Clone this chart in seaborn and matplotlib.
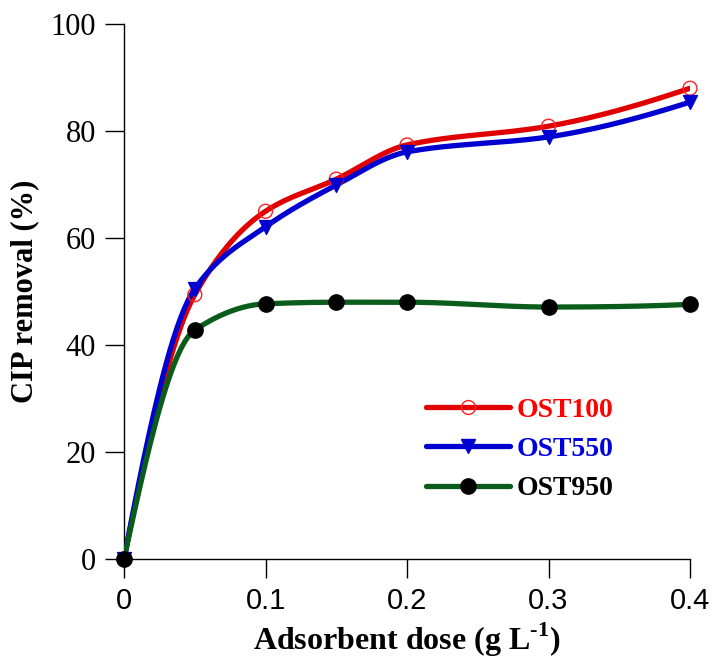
import numpy as np
import pandas as pd
import matplotlib
matplotlib.use("Agg")
import matplotlib.pyplot as plt
import seaborn as sns
from matplotlib.lines import Line2D

dose = [0, 0.05, 0.1, 0.15, 0.2, 0.3, 0.4]
ost100 = [0, 49.4, 65.0, 71.0, 77.4, 80.9, 88.0]
ost550 = [0, 50.5, 62.1, 69.9, 76.1, 78.9, 85.4]
ost950 = [0, 42.8, 47.7, 48.0, 48.0, 47.1, 47.6]
series_names = ["OST100", "OST550", "OST950"]
x_ticks = [0, 0.1, 0.2, 0.3, 0.4]
x_tick_labels = ["0", "0.1", "0.2", "0.3", "0.4"]
y_ticks = [0, 20, 40, 60, 80, 100]

sns.set_theme(style="ticks")
plt.rcParams["font.family"] = ["Liberation Serif", "DejaVu Serif"]
plt.rcParams["mathtext.fontset"] = "custom"
plt.rcParams["mathtext.rm"] = "Liberation Serif:bold"
plt.rcParams["mathtext.bf"] = "Liberation Serif:bold"
plt.rcParams["text.color"] = "black"
plt.rcParams["axes.labelcolor"] = "black"


def smooth(xs, ys, n=40):
    # monotone cubic (PCHIP) rendering of the line through the data points
    x = np.asarray(xs, float)
    y = np.asarray(ys, float)
    h = np.diff(x)
    d = np.diff(y) / h
    m = np.zeros_like(y)
    for k in range(1, len(x) - 1):
        if d[k - 1] * d[k] <= 0:
            m[k] = 0.0
        else:
            w1 = 2 * h[k] + h[k - 1]
            w2 = h[k] + 2 * h[k - 1]
            m[k] = (w1 + w2) / (w1 / d[k - 1] + w2 / d[k])
    def end(h0, h1, d0, d1):
        v = ((2 * h0 + h1) * d0 - h0 * d1) / (h0 + h1)
        if np.sign(v) != np.sign(d0):
            v = 0.0
        elif np.sign(d0) != np.sign(d1) and abs(v) > abs(3 * d0):
            v = 3 * d0
        return v
    m[0] = end(h[0], h[1], d[0], d[1])
    m[-1] = end(h[-1], h[-2], d[-1], d[-2])
    ox, oy = [], []
    t = np.linspace(0, 1, n, endpoint=False)
    for k in range(len(x) - 1):
        h00 = 2 * t ** 3 - 3 * t ** 2 + 1
        h10 = t ** 3 - 2 * t ** 2 + t
        h01 = -2 * t ** 3 + 3 * t ** 2
        h11 = t ** 3 - t ** 2
        ox.extend(x[k] + t * h[k])
        oy.extend(h00 * y[k] + h10 * h[k] * m[k] + h01 * y[k + 1] + h11 * h[k] * m[k + 1])
    ox.append(x[-1])
    oy.append(y[-1])
    return np.array(ox), np.array(oy)


fig = plt.figure(figsize=(7.14, 6.6), dpi=100)
ax = fig.add_axes([0.1737, 0.153, 0.7927, 0.8106])

styles = [
    dict(name="OST100", y=ost100, color="#e00000", marker="o", mfc="none", mec="#ff2020", ms=10, txt="#ff0000"),
    dict(name="OST550", y=ost550, color="#0000d0", marker="v", mfc="#0000d0", mec="#0000d0", ms=10, txt="#0000dd"),
    dict(name="OST950", y=ost950, color="#0a5c1a", marker="o", mfc="black", mec="black", ms=11, txt="black"),
]

for i, s in enumerate(styles):
    sx, sy = smooth(dose, s["y"])
    df_line = pd.DataFrame({"x": sx, "y": sy})
    sns.lineplot(data=df_line, x="x", y="y", sort=False, color=s["color"], lw=3.8, ax=ax, zorder=2 + i)

for i, s in enumerate(styles):
    df = pd.DataFrame({"x": dose, "y": s["y"]})
    sns.scatterplot(data=df, x="x", y="y", marker=s["marker"], s=s["ms"] ** 2,
                    facecolor=s["mfc"], edgecolor=s["mec"], linewidth=1.0,
                    ax=ax, zorder=10 + i, clip_on=False)

ax.set_xlim(0, 0.4)
ax.set_ylim(0, 100)
ax.set_xticks(x_ticks)
ax.set_xticklabels(x_tick_labels, family="Liberation Sans", fontsize=21)
ax.set_yticks(y_ticks)
ax.tick_params(axis="both", direction="out", length=14, width=1.0, color="black", labelcolor="black")
ax.tick_params(axis="y", labelsize=22, pad=6)
ax.tick_params(axis="x", pad=6)
for sp in ["top", "right"]:
    ax.spines[sp].set_visible(False)
for sp in ["left", "bottom"]:
    ax.spines[sp].set_color("black")
    ax.spines[sp].set_linewidth(1.0)

ax.set_xlabel(r"Adsorbent dose (g L$^{\text{-}1}$)", fontsize=23, fontweight="bold", labelpad=4, color="black")
ax.set_ylabel("CIP removal (%)", fontsize=22, fontweight="bold", labelpad=8, color="black")

handles = [Line2D([0], [0], color=s["color"], lw=3.8, marker=s["marker"], markersize=s["ms"],
                  markerfacecolor=s["mfc"], markeredgecolor=s["mec"]) for s in styles]
leg = ax.legend(handles, series_names, loc="upper left", bbox_to_anchor=(0.49, 0.349),
                frameon=False, handlelength=3.0, handletextpad=0.25, labelspacing=0.5,
                prop={"weight": "bold", "size": 20, "family": "Liberation Serif"})
for t, s in zip(leg.get_texts(), styles):
    t.set_color(s["txt"])

fig.savefig("out.png", dpi=100)
